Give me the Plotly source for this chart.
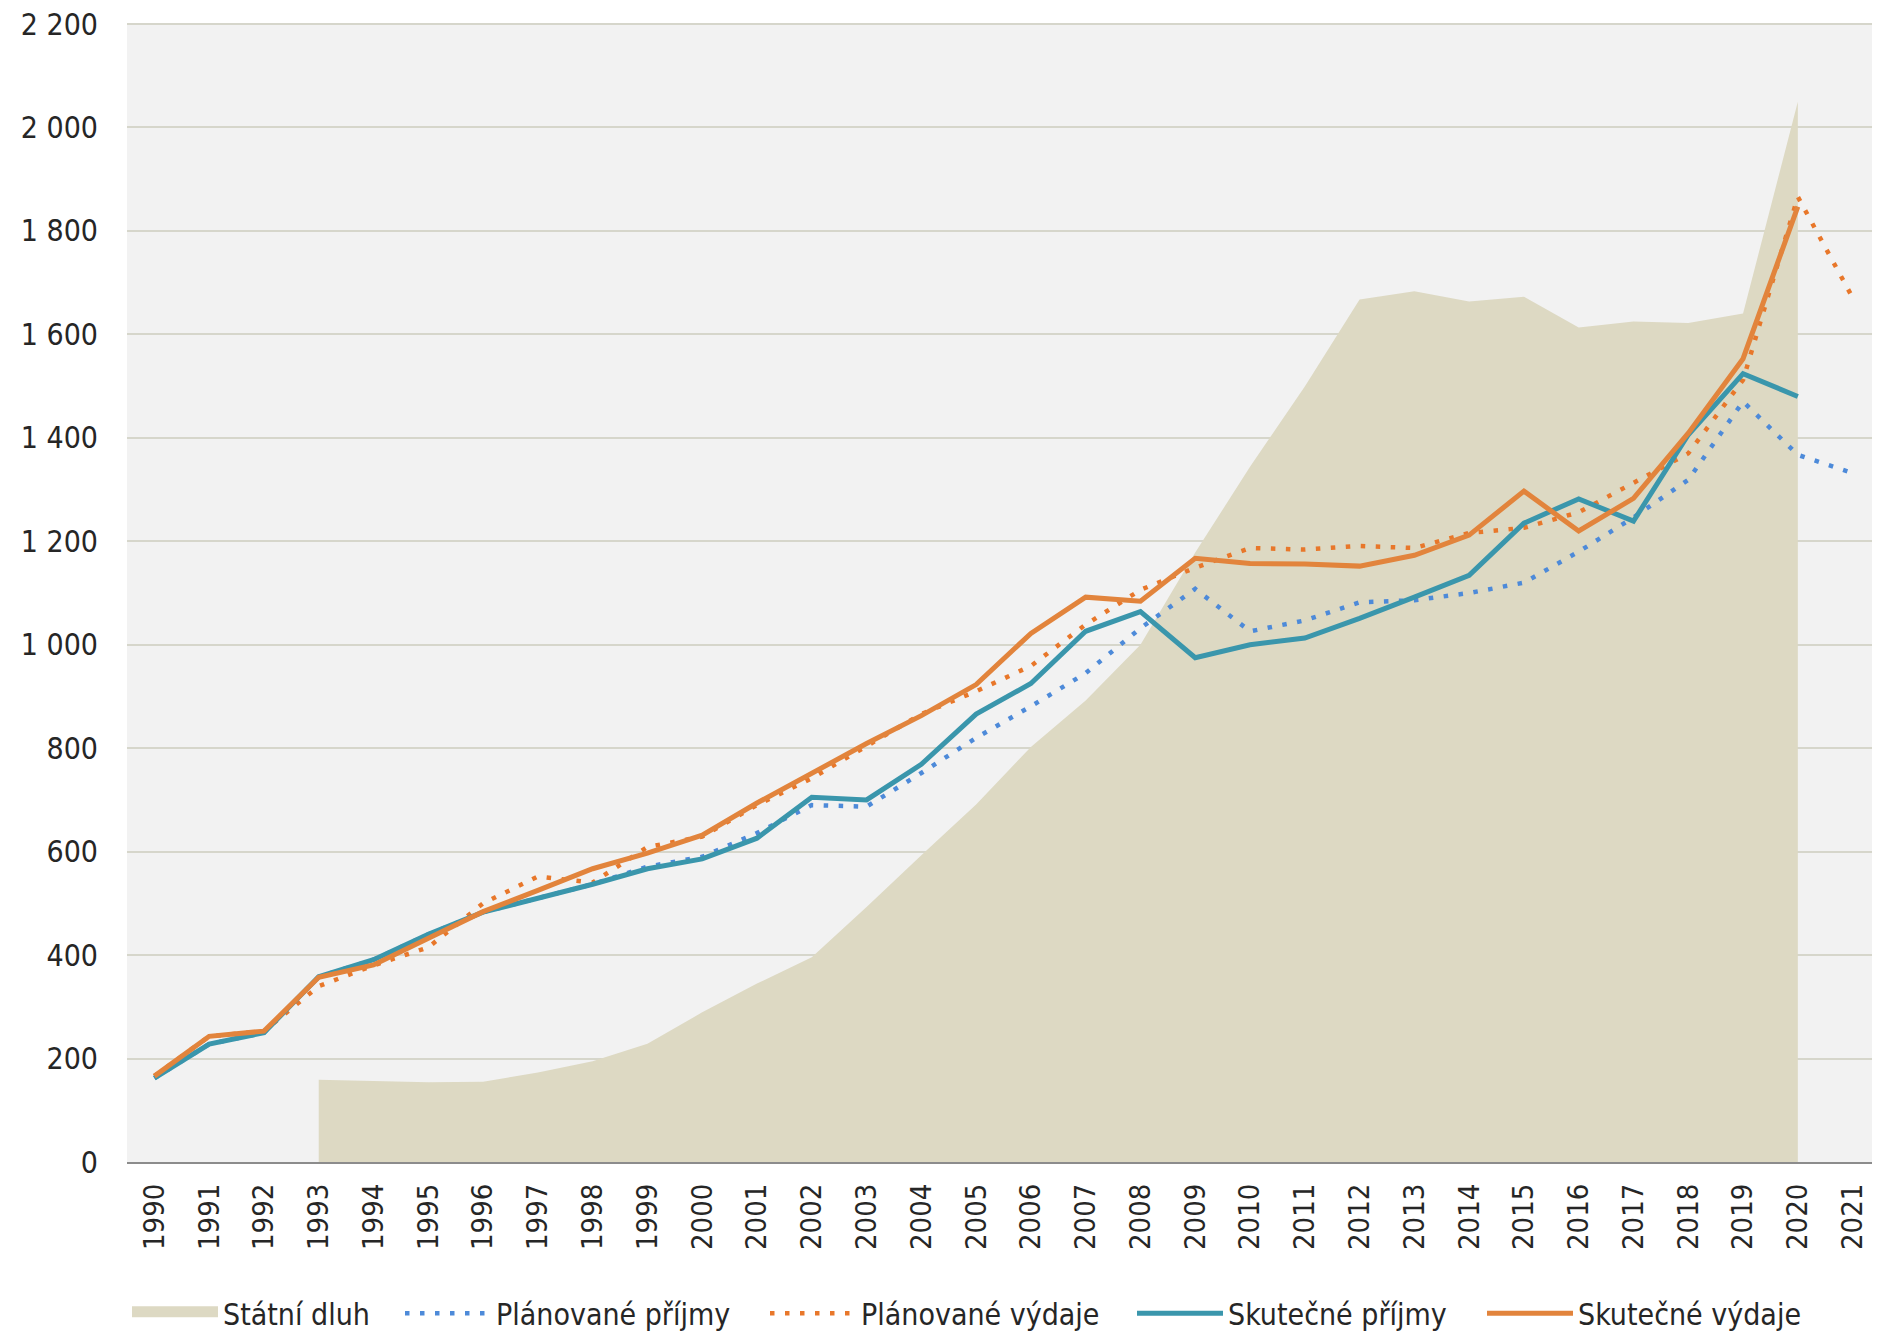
import plotly.graph_objects as go

years = ["1990", "1991", "1992", "1993", "1994", "1995", "1996", "1997", "1998", "1999",
         "2000", "2001", "2002", "2003", "2004", "2005", "2006", "2007", "2008", "2009",
         "2010", "2011", "2012", "2013", "2014", "2015", "2016", "2017", "2018", "2019",
         "2020", "2021"]

debt_years = years[3:31]
statni_dluh = [158.8, 157.3, 154.4, 155.2, 173.1, 194.7, 228.4, 289.3, 345.0, 395.9,
               493.2, 592.9, 691.2, 802.5, 892.3, 999.8, 1178.2, 1344.1, 1499.4, 1667.6,
               1683.3, 1663.7, 1673.0, 1613.4, 1624.7, 1622.0, 1640.2, 2049.7]

planovane_prijmy = [162, 228, 250, 358, 391, 440, 483, 509, 537, 571,
                    590, 636, 690, 687, 752, 820, 881, 945, 1032, 1108,
                    1026, 1047, 1082, 1086, 1100, 1120, 1180, 1246, 1319, 1470,
                    1367, 1332]

planovane_vydaje = [166, 243, 253, 340, 380, 415, 500, 552, 540, 609,
                    629, 690, 742, 803, 866, 910, 959, 1039, 1106, 1149,
                    1187, 1184, 1191, 1187, 1216, 1226, 1256, 1313, 1370, 1512,
                    1866, 1671]

skutecne_prijmy = [162, 228, 250, 358, 391, 440, 483, 509, 537, 567,
                   586, 626, 705, 700, 769, 866, 925, 1026, 1064, 975,
                   1000, 1013, 1051, 1092, 1134, 1235, 1282, 1239, 1406, 1524,
                   1480, None]

skutecne_vydaje = [166, 243, 253, 357, 381, 433, 484, 525, 567, 597,
                   632, 694, 751, 809, 863, 923, 1022, 1092, 1084, 1167,
                   1157, 1156, 1152, 1173, 1212, 1297, 1220, 1283, 1409, 1553,
                   1847, None]

y_ticks = [0, 200, 400, 600, 800, 1000, 1200, 1400, 1600, 1800, 2000, 2200]

FONT = "DejaVu Sans Condensed, DejaVu Sans, sans-serif"
C_DEBT = "#DDD9C3"
C_BLUE = "#4D8AD9"
C_ORANGE_DOT = "#E8772A"
C_TEAL = "#3A96AC"
C_ORANGE = "#E2843C"

fig = go.Figure()
# area (legend entry supplied by the swatch trace below)
fig.add_trace(go.Scatter(x=debt_years, y=statni_dluh, name="Státní dluh",
                         mode="lines", fill="tozeroy", fillcolor=C_DEBT,
                         line=dict(width=0, color=C_DEBT), showlegend=False,
                         legendgroup="dluh"))
# legend-only swatch for the area (thicker block like the original)
fig.add_trace(go.Scatter(x=[None], y=[None], name="Státní dluh", mode="lines",
                         fill="toself", fillcolor=C_DEBT,
                         line=dict(width=10, color=C_DEBT), legendwidth=172,
                         legendgroup="dluh", legendrank=1))
fig.add_trace(go.Scatter(x=years, y=planovane_prijmy, name="Plánované příjmy",
                         mode="lines", line=dict(color=C_BLUE, width=4.5, dash="4.5px,10.5px"),
                         legendwidth=264, legendrank=2))
fig.add_trace(go.Scatter(x=years, y=planovane_vydaje, name="Plánované výdaje",
                         mode="lines", line=dict(color=C_ORANGE_DOT, width=4.5, dash="4.5px,10.5px"),
                         legendwidth=266, legendrank=3))
fig.add_trace(go.Scatter(x=years, y=skutecne_prijmy, name="Skutečné příjmy",
                         mode="lines", line=dict(color=C_TEAL, width=5), legendwidth=249,
                         legendrank=4))
fig.add_trace(go.Scatter(x=years, y=skutecne_vydaje, name="Skutečné výdaje",
                         mode="lines", line=dict(color=C_ORANGE, width=5), legendwidth=226,
                         legendrank=5))

fig.update_layout(
    width=1880, height=1331,
    margin=dict(l=119, r=8, t=15, b=177, autoexpand=False),
    paper_bgcolor="white", plot_bgcolor="#F2F2F2",
    separators=", ",
    font=dict(family=FONT, size=29, color="#262626"),
    showlegend=True,
    legend=dict(orientation="h", x=0.0, xanchor="left", y=-0.1327, yanchor="middle",
                font=dict(family=FONT, size=30, color="#262626"),
                itemwidth=86, bgcolor="rgba(0,0,0,0)", traceorder="normal"),
)
fig.update_xaxes(type="category", categoryorder="array", categoryarray=years,
                 range=[-0.5, 31.5], tickangle=-90, showgrid=False,
                 showline=True, linecolor="#8C8C8C", linewidth=2,
                 ticks="outside", ticklen=8, tickcolor="rgba(0,0,0,0)",
                 tickfont=dict(family=FONT, size=29, color="#262626"), zeroline=False)
fig.update_yaxes(range=[0, 2202], tickvals=y_ticks, tickformat=",",
                 showgrid=True, gridcolor="#D6D6CB", gridwidth=2,
                 zeroline=False, showline=False, ticklabeloverflow="allow",
                 ticks="outside", ticklen=22, tickcolor="rgba(0,0,0,0)",
                 tickfont=dict(family=FONT, size=30, color="#262626"))

fig.write_html("out.html")
